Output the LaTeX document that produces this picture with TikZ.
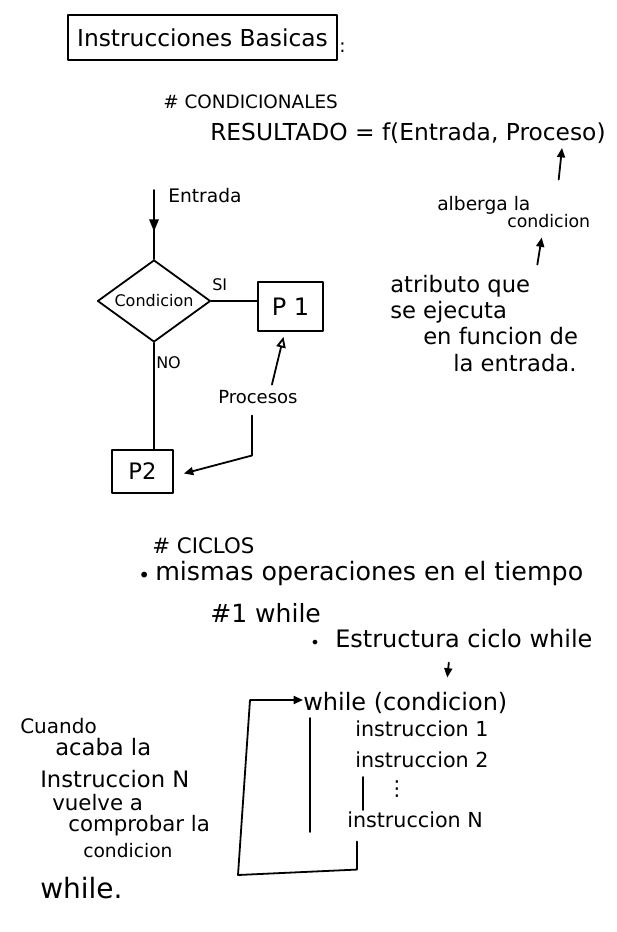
\documentclass[tikz,border=0pt]{standalone}
\usepackage{fontspec}
\setmainfont{DejaVu Sans}
\usetikzlibrary{arrows.meta,shapes.geometric,calc,decorations.markings}

\begin{document}
\begin{tikzpicture}[x=0.75pt,y=-0.75pt,
  ink/.style={line width=1.35pt, line cap=round, line join=round},
  arr/.style={ink, -{Triangle[length=7pt,width=6pt]}},
  openarr/.style={ink, -{Triangle[open,length=8pt,width=7pt]}},
  lbl/.style={inner sep=0pt, anchor=base west},
  fs/.style={font=\fontsize{#1}{#1}\selectfont},
  boxnode/.style={draw, ink, inner sep=0pt},
]
\useasboundingbox[fill=white] (0,0) rectangle (617,932);

% ---- heading ----
\node[boxnode, minimum width=201.75pt, minimum height=33.75pt, fs=17.5] (title) at (202.5,37.5) {Instrucciones Basicas};
\node[lbl, fs=14] (colon) at (339,52) {:};

% ---- conditionals ----
\node[lbl, fs=13.8] (condh) at (163,108) {\# CONDICIONALES};
\node[lbl, fs=17.5] (res) at (210,140) {RESULTADO = f(Entrada, Proceso)};
\coordinate (procpt) at (562,148);

\node[lbl, fs=14] (alb) at (437,210) {alberga la};
\node[lbl, fs=13] (cnd) at (507,227) {condicion};
\draw[arr] ($(alb.north east)+(28,-16)$) -- (procpt);

\node[lbl, fs=17] (atr1) at (390,292) {atributo que};
\node[lbl, fs=17] (atr2) at (390,318) {se ejecuta};
\node[lbl, fs=17] (atr3) at (423,344) {en funcion de};
\node[lbl, fs=17] (atr4) at (453,371) {la entrada.};
\draw[arr] ($(atr1.north east)+(7,-10)$) -- ($(cnd.south)+(-7,10)$);

% ---- flowchart ----
\node[diamond, boxnode, aspect=1.38, minimum width=84.75pt, minimum height=61.5pt, fs=12] (cond) at (154,301) {Condicion};
\coordinate (entin) at (154,190);
\draw[ink, postaction={decorate},
  decoration={markings, mark=at position 0.6 with {\arrow{Triangle[length=9pt,width=7pt]}}}]
  (entin) -- (cond.north);
\node[lbl, fs=14] (entl) at (168,202) {Entrada};

\node[boxnode, minimum width=48.75pt, minimum height=36.75pt, fs=18] (p1) at (290.5,306.5) {P 1};
\node[lbl, fs=12] (si) at (212,290) {SI};
\draw[ink] (cond.east) -- (p1.west |- cond.east);

\node[lbl, fs=12] (no) at (156,368) {NO};
\node[boxnode, minimum width=45.75pt, minimum height=32.25pt, fs=17] (p2) at (142.5,471.5) {P2};
\draw[ink] (cond.south) -- (cond.south |- p2.north);

\node[lbl, fs=13.5] (proc) at (218,403) {Procesos};
\draw[openarr] ($(proc.north)+(14,-5)$) -- ($(p1.south)+(-7,5)$);
\draw[arr] ($(proc.south)+(-6,12)$) -- ++(0,40) -- ($(p2.east)+(10,2)$);

% ---- loops ----
\node[lbl, fs=16] (cic) at (152,553) {\# CICLOS};
\node[lbl, fs=15] (b1) at (138,582) {•};
\node[lbl, fs=19] (mis) at (155,580) {mismas operaciones en el tiempo};
\node[lbl, fs=18.8] (w1) at (210,622) {\#1 while};
\node[lbl, fs=12] (b2) at (310,648) {•};
\node[lbl, fs=18] (est) at (335,647) {Estructura ciclo while};
\node[lbl, fs=18] (wc) at (303,710) {while (condicion)};
\draw[arr] ($(est.south)+(-15,15)$) -- ($(wc.north)+(42,-14)$);

\node[lbl, fs=15.5] (i1) at (355,736) {instruccion 1};
\node[lbl, fs=15.5] (i2) at (355,767) {instruccion 2};
\node[fs=15.5, inner sep=0pt] (dots) at (397,789) {⋮};
\node[lbl, fs=15.5] (iN) at (347,827) {instruccion N};

% loop back from the last instruction to the condition
\coordinate (lpA) at (238,875);
\coordinate (lpB) at (250,700);
\draw[arr] ($(iN.south west)+(10,14)$) -- ++(0,28) -- (lpA) -- (lpB) -- (lpB -| wc.west);

% body markers
\draw[ink] (310,718) -- (310,832);
\draw[ink] (363,777) -- (363,810);

% ---- side note ----
\node[lbl, fs=15] (l1) at (20,733) {Cuando};
\node[lbl, fs=17] (l2) at (55,755) {acaba la};
\node[lbl, fs=17] (l3) at (40,787) {Instruccion N};
\node[lbl, fs=16] (l4) at (52,810) {vuelve a};
\node[lbl, fs=16] (l5) at (68,831) {comprobar la};
\node[lbl, fs=14] (l6) at (83,857) {condicion};
\node[lbl, fs=21] (l7) at (40,898) {while.};
\end{tikzpicture}
\end{document}
